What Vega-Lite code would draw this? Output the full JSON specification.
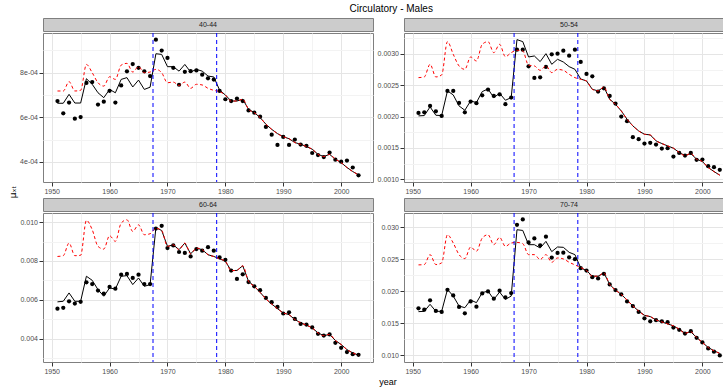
{
  "$schema": "https://vega.github.io/schema/vega-lite/v6.json",
  "padding": {"left": 8, "top": 3, "right": 0, "bottom": 0},
  "background": "white",
  "spacing": 0,
  "title": {"text": "Circulatory - Males", "fontSize": 10, "fontWeight": "normal", "font": "Liberation Sans", "color": "#000000", "anchor": "middle", "dx": 25, "offset": 4},
  "config": {
    "font": "Liberation Sans",
    "view": {"stroke": "#7f7f7f", "strokeWidth": 1},
    "axis": {"domain": false, "labelFontSize": 7, "labelColor": "#4d4d4d", "tickColor": "#333333", "tickSize": 4, "labelPadding": 1.5, "gridColor": "#e5e5e5", "gridWidth": 1, "labelFlush": false, "labelOverlap": false, "tickCount": 100}
  },
  "datasets": {
    "breaks": [{"year": 1967.5}, {"year": 1978.5}],
    "mx": [
      {"age":"40-44","year":1951,"rate":6.73e-4,"fit":6.63e-4,"fit0":7.18e-4},
      {"age":"40-44","year":1952,"rate":6.18e-4,"fit":6.63e-4,"fit0":7.18e-4},
      {"age":"40-44","year":1953,"rate":6.66e-4,"fit":7.03e-4,"fit0":7.60e-4},
      {"age":"40-44","year":1954,"rate":5.94e-4,"fit":6.64e-4,"fit0":7.18e-4},
      {"age":"40-44","year":1955,"rate":6.01e-4,"fit":6.64e-4,"fit0":7.21e-4},
      {"age":"40-44","year":1956,"rate":7.54e-4,"fit":7.73e-4,"fit0":8.37e-4},
      {"age":"40-44","year":1957,"rate":7.58e-4,"fit":7.48e-4,"fit0":8.00e-4},
      {"age":"40-44","year":1958,"rate":6.57e-4,"fit":7.10e-4,"fit0":7.55e-4},
      {"age":"40-44","year":1959,"rate":6.70e-4,"fit":6.88e-4,"fit0":7.40e-4},
      {"age":"40-44","year":1960,"rate":7.19e-4,"fit":7.25e-4,"fit0":7.82e-4},
      {"age":"40-44","year":1961,"rate":6.66e-4,"fit":7.10e-4,"fit0":7.70e-4},
      {"age":"40-44","year":1962,"rate":7.43e-4,"fit":7.70e-4,"fit0":8.34e-4},
      {"age":"40-44","year":1963,"rate":8.06e-4,"fit":7.78e-4,"fit0":8.42e-4},
      {"age":"40-44","year":1964,"rate":8.39e-4,"fit":7.36e-4,"fit0":8.03e-4},
      {"age":"40-44","year":1965,"rate":8.22e-4,"fit":7.67e-4,"fit0":8.27e-4},
      {"age":"40-44","year":1966,"rate":8.06e-4,"fit":7.25e-4,"fit0":8.00e-4},
      {"age":"40-44","year":1967,"rate":7.85e-4,"fit":7.35e-4,"fit0":8.03e-4},
      {"age":"40-44","year":1968,"rate":9.48e-4,"fit":8.85e-4,"fit0":8.15e-4},
      {"age":"40-44","year":1969,"rate":8.99e-4,"fit":8.82e-4,"fit0":8.00e-4},
      {"age":"40-44","year":1970,"rate":8.66e-4,"fit":8.27e-4,"fit0":7.55e-4},
      {"age":"40-44","year":1971,"rate":8.22e-4,"fit":8.27e-4,"fit0":7.58e-4},
      {"age":"40-44","year":1972,"rate":7.46e-4,"fit":8.07e-4,"fit0":7.43e-4},
      {"age":"40-44","year":1973,"rate":8.04e-4,"fit":8.37e-4,"fit0":7.58e-4},
      {"age":"40-44","year":1974,"rate":8.07e-4,"fit":8.03e-4,"fit0":7.30e-4},
      {"age":"40-44","year":1975,"rate":8.10e-4,"fit":8.15e-4,"fit0":7.48e-4},
      {"age":"40-44","year":1976,"rate":7.91e-4,"fit":8.07e-4,"fit0":7.45e-4},
      {"age":"40-44","year":1977,"rate":7.75e-4,"fit":7.85e-4,"fit0":7.30e-4},
      {"age":"40-44","year":1978,"rate":7.69e-4,"fit":7.81e-4,"fit0":7.21e-4},
      {"age":"40-44","year":1979,"rate":7.18e-4,"fit":7.22e-4,"fit0":7.15e-4},
      {"age":"40-44","year":1980,"rate":6.81e-4,"fit":7.00e-4,"fit0":7.00e-4},
      {"age":"40-44","year":1981,"rate":6.73e-4,"fit":6.73e-4,"fit0":6.73e-4},
      {"age":"40-44","year":1982,"rate":6.84e-4,"fit":6.73e-4,"fit0":6.73e-4},
      {"age":"40-44","year":1983,"rate":6.73e-4,"fit":6.81e-4,"fit0":6.81e-4},
      {"age":"40-44","year":1984,"rate":6.31e-4,"fit":6.36e-4,"fit0":6.36e-4},
      {"age":"40-44","year":1985,"rate":6.21e-4,"fit":6.21e-4,"fit0":6.21e-4},
      {"age":"40-44","year":1986,"rate":6.03e-4,"fit":5.99e-4,"fit0":5.99e-4},
      {"age":"40-44","year":1987,"rate":5.57e-4,"fit":5.69e-4,"fit0":5.69e-4},
      {"age":"40-44","year":1988,"rate":5.22e-4,"fit":5.46e-4,"fit0":5.46e-4},
      {"age":"40-44","year":1989,"rate":4.76e-4,"fit":5.27e-4,"fit0":5.27e-4},
      {"age":"40-44","year":1990,"rate":5.12e-4,"fit":5.13e-4,"fit0":5.13e-4},
      {"age":"40-44","year":1991,"rate":4.76e-4,"fit":5.04e-4,"fit0":5.04e-4},
      {"age":"40-44","year":1992,"rate":5.00e-4,"fit":4.87e-4,"fit0":4.87e-4},
      {"age":"40-44","year":1993,"rate":4.78e-4,"fit":4.79e-4,"fit0":4.79e-4},
      {"age":"40-44","year":1994,"rate":4.72e-4,"fit":4.69e-4,"fit0":4.69e-4},
      {"age":"40-44","year":1995,"rate":4.40e-4,"fit":4.57e-4,"fit0":4.57e-4},
      {"age":"40-44","year":1996,"rate":4.31e-4,"fit":4.34e-4,"fit0":4.34e-4},
      {"age":"40-44","year":1997,"rate":4.22e-4,"fit":4.24e-4,"fit0":4.24e-4},
      {"age":"40-44","year":1998,"rate":4.42e-4,"fit":4.34e-4,"fit0":4.34e-4},
      {"age":"40-44","year":1999,"rate":4.10e-4,"fit":4.12e-4,"fit0":4.12e-4},
      {"age":"40-44","year":2000,"rate":4.01e-4,"fit":3.97e-4,"fit0":3.97e-4},
      {"age":"40-44","year":2001,"rate":4.06e-4,"fit":3.75e-4,"fit0":3.75e-4},
      {"age":"40-44","year":2002,"rate":3.75e-4,"fit":3.57e-4,"fit0":3.57e-4},
      {"age":"40-44","year":2003,"rate":3.40e-4,"fit":3.42e-4,"fit0":3.42e-4},

      {"age":"50-54","year":1951,"rate":20.59e-4,"fit":20.11e-4,"fit0":26.22e-4},
      {"age":"50-54","year":1952,"rate":20.69e-4,"fit":20.16e-4,"fit0":26.33e-4},
      {"age":"50-54","year":1953,"rate":21.70e-4,"fit":21.54e-4,"fit0":28.35e-4},
      {"age":"50-54","year":1954,"rate":20.85e-4,"fit":20.21e-4,"fit0":26.33e-4},
      {"age":"50-54","year":1955,"rate":20.11e-4,"fit":20.16e-4,"fit0":26.65e-4},
      {"age":"50-54","year":1956,"rate":24.10e-4,"fit":24.10e-4,"fit0":31.97e-4},
      {"age":"50-54","year":1957,"rate":24.10e-4,"fit":23.46e-4,"fit0":29.95e-4},
      {"age":"50-54","year":1958,"rate":22.18e-4,"fit":21.70e-4,"fit0":28.09e-4},
      {"age":"50-54","year":1959,"rate":20.69e-4,"fit":21.01e-4,"fit0":27.55e-4},
      {"age":"50-54","year":1960,"rate":22.39e-4,"fit":22.50e-4,"fit0":29.52e-4},
      {"age":"50-54","year":1961,"rate":22.13e-4,"fit":22.23e-4,"fit0":28.88e-4},
      {"age":"50-54","year":1962,"rate":23.40e-4,"fit":23.99e-4,"fit0":31.54e-4},
      {"age":"50-54","year":1963,"rate":24.31e-4,"fit":24.41e-4,"fit0":31.97e-4},
      {"age":"50-54","year":1964,"rate":23.30e-4,"fit":23.03e-4,"fit0":30.21e-4},
      {"age":"50-54","year":1965,"rate":23.56e-4,"fit":23.72e-4,"fit0":31.54e-4},
      {"age":"50-54","year":1966,"rate":21.97e-4,"fit":22.61e-4,"fit0":29.57e-4},
      {"age":"50-54","year":1967,"rate":23.03e-4,"fit":23.03e-4,"fit0":30.21e-4},
      {"age":"50-54","year":1968,"rate":30.69e-4,"fit":32.29e-4,"fit0":30.59e-4},
      {"age":"50-54","year":1969,"rate":30.69e-4,"fit":31.97e-4,"fit0":30.48e-4},
      {"age":"50-54","year":1970,"rate":28.03e-4,"fit":29.52e-4,"fit0":28.19e-4},
      {"age":"50-54","year":1971,"rate":26.17e-4,"fit":29.68e-4,"fit0":28.09e-4},
      {"age":"50-54","year":1972,"rate":26.28e-4,"fit":28.78e-4,"fit0":27.39e-4},
      {"age":"50-54","year":1973,"rate":27.93e-4,"fit":30.05e-4,"fit0":28.09e-4},
      {"age":"50-54","year":1974,"rate":29.95e-4,"fit":28.35e-4,"fit0":27.02e-4},
      {"age":"50-54","year":1975,"rate":30.05e-4,"fit":29.15e-4,"fit0":27.55e-4},
      {"age":"50-54","year":1976,"rate":30.53e-4,"fit":28.72e-4,"fit0":27.39e-4},
      {"age":"50-54","year":1977,"rate":29.73e-4,"fit":27.98e-4,"fit0":26.76e-4},
      {"age":"50-54","year":1978,"rate":30.69e-4,"fit":27.55e-4,"fit0":26.22e-4},
      {"age":"50-54","year":1979,"rate":28.72e-4,"fit":26.00e-4,"fit0":25.95e-4},
      {"age":"50-54","year":1980,"rate":26.81e-4,"fit":25.69e-4,"fit0":25.69e-4},
      {"age":"50-54","year":1981,"rate":26.44e-4,"fit":24.36e-4,"fit0":24.36e-4},
      {"age":"50-54","year":1982,"rate":23.99e-4,"fit":24.10e-4,"fit0":24.10e-4},
      {"age":"50-54","year":1983,"rate":24.52e-4,"fit":24.73e-4,"fit0":24.73e-4},
      {"age":"50-54","year":1984,"rate":23.30e-4,"fit":22.77e-4,"fit0":22.77e-4},
      {"age":"50-54","year":1985,"rate":22.07e-4,"fit":21.97e-4,"fit0":21.97e-4},
      {"age":"50-54","year":1986,"rate":20.00e-4,"fit":20.90e-4,"fit0":20.90e-4},
      {"age":"50-54","year":1987,"rate":19.26e-4,"fit":19.57e-4,"fit0":19.57e-4},
      {"age":"50-54","year":1988,"rate":16.70e-4,"fit":18.51e-4,"fit0":18.51e-4},
      {"age":"50-54","year":1989,"rate":16.38e-4,"fit":17.71e-4,"fit0":17.71e-4},
      {"age":"50-54","year":1990,"rate":15.69e-4,"fit":17.18e-4,"fit0":17.18e-4},
      {"age":"50-54","year":1991,"rate":15.80e-4,"fit":17.07e-4,"fit0":17.07e-4},
      {"age":"50-54","year":1992,"rate":15.53e-4,"fit":16.12e-4,"fit0":16.12e-4},
      {"age":"50-54","year":1993,"rate":14.89e-4,"fit":15.69e-4,"fit0":15.69e-4},
      {"age":"50-54","year":1994,"rate":14.95e-4,"fit":15.32e-4,"fit0":15.32e-4},
      {"age":"50-54","year":1995,"rate":13.62e-4,"fit":14.95e-4,"fit0":14.95e-4},
      {"age":"50-54","year":1996,"rate":14.20e-4,"fit":14.26e-4,"fit0":14.26e-4},
      {"age":"50-54","year":1997,"rate":13.78e-4,"fit":13.78e-4,"fit0":13.78e-4},
      {"age":"50-54","year":1998,"rate":14.20e-4,"fit":14.10e-4,"fit0":14.10e-4},
      {"age":"50-54","year":1999,"rate":13.09e-4,"fit":13.19e-4,"fit0":13.19e-4},
      {"age":"50-54","year":2000,"rate":13.14e-4,"fit":12.82e-4,"fit0":12.82e-4},
      {"age":"50-54","year":2001,"rate":12.07e-4,"fit":11.86e-4,"fit0":11.86e-4},
      {"age":"50-54","year":2002,"rate":11.91e-4,"fit":11.22e-4,"fit0":11.22e-4},
      {"age":"50-54","year":2003,"rate":11.49e-4,"fit":10.64e-4,"fit0":10.64e-4},

      {"age":"60-64","year":1951,"rate":5.54e-3,"fit":5.89e-3,"fit0":8.23e-3},
      {"age":"60-64","year":1952,"rate":5.58e-3,"fit":5.92e-3,"fit0":8.27e-3},
      {"age":"60-64","year":1953,"rate":5.92e-3,"fit":6.35e-3,"fit0":8.92e-3},
      {"age":"60-64","year":1954,"rate":5.80e-3,"fit":5.92e-3,"fit0":8.27e-3},
      {"age":"60-64","year":1955,"rate":5.89e-3,"fit":5.92e-3,"fit0":8.29e-3},
      {"age":"60-64","year":1956,"rate":6.90e-3,"fit":7.21e-3,"fit0":10.09e-3},
      {"age":"60-64","year":1957,"rate":6.81e-3,"fit":7.00e-3,"fit0":9.61e-3},
      {"age":"60-64","year":1958,"rate":6.47e-3,"fit":6.52e-3,"fit0":8.75e-3},
      {"age":"60-64","year":1959,"rate":6.31e-3,"fit":6.18e-3,"fit0":8.61e-3},
      {"age":"60-64","year":1960,"rate":6.66e-3,"fit":6.61e-3,"fit0":9.30e-3},
      {"age":"60-64","year":1961,"rate":6.57e-3,"fit":6.55e-3,"fit0":9.01e-3},
      {"age":"60-64","year":1962,"rate":7.29e-3,"fit":7.21e-3,"fit0":9.95e-3},
      {"age":"60-64","year":1963,"rate":7.33e-3,"fit":7.24e-3,"fit0":10.12e-3},
      {"age":"60-64","year":1964,"rate":7.12e-3,"fit":6.78e-3,"fit0":9.52e-3},
      {"age":"60-64","year":1965,"rate":7.29e-3,"fit":7.12e-3,"fit0":9.86e-3},
      {"age":"60-64","year":1966,"rate":6.81e-3,"fit":6.69e-3,"fit0":9.35e-3},
      {"age":"60-64","year":1967,"rate":6.81e-3,"fit":6.78e-3,"fit0":9.40e-3},
      {"age":"60-64","year":1968,"rate":9.67e-3,"fit":9.71e-3,"fit0":9.68e-3},
      {"age":"60-64","year":1969,"rate":9.81e-3,"fit":9.57e-3,"fit0":9.57e-3},
      {"age":"60-64","year":1970,"rate":8.66e-3,"fit":8.75e-3,"fit0":8.75e-3},
      {"age":"60-64","year":1971,"rate":8.80e-3,"fit":8.83e-3,"fit0":8.83e-3},
      {"age":"60-64","year":1972,"rate":8.46e-3,"fit":8.58e-3,"fit0":8.58e-3},
      {"age":"60-64","year":1973,"rate":8.41e-3,"fit":8.92e-3,"fit0":8.92e-3},
      {"age":"60-64","year":1974,"rate":8.23e-3,"fit":8.37e-3,"fit0":8.37e-3},
      {"age":"60-64","year":1975,"rate":8.61e-3,"fit":8.66e-3,"fit0":8.66e-3},
      {"age":"60-64","year":1976,"rate":8.53e-3,"fit":8.58e-3,"fit0":8.58e-3},
      {"age":"60-64","year":1977,"rate":8.71e-3,"fit":8.32e-3,"fit0":8.32e-3},
      {"age":"60-64","year":1978,"rate":8.53e-3,"fit":8.23e-3,"fit0":8.23e-3},
      {"age":"60-64","year":1979,"rate":8.18e-3,"fit":8.11e-3,"fit0":8.11e-3},
      {"age":"60-64","year":1980,"rate":8.06e-3,"fit":7.98e-3,"fit0":7.98e-3},
      {"age":"60-64","year":1981,"rate":7.50e-3,"fit":7.50e-3,"fit0":7.50e-3},
      {"age":"60-64","year":1982,"rate":7.07e-3,"fit":7.51e-3,"fit0":7.51e-3},
      {"age":"60-64","year":1983,"rate":7.31e-3,"fit":7.75e-3,"fit0":7.75e-3},
      {"age":"60-64","year":1984,"rate":6.91e-3,"fit":6.95e-3,"fit0":6.95e-3},
      {"age":"60-64","year":1985,"rate":6.69e-3,"fit":6.69e-3,"fit0":6.69e-3},
      {"age":"60-64","year":1986,"rate":6.49e-3,"fit":6.38e-3,"fit0":6.38e-3},
      {"age":"60-64","year":1987,"rate":6.09e-3,"fit":6.04e-3,"fit0":6.04e-3},
      {"age":"60-64","year":1988,"rate":5.87e-3,"fit":5.78e-3,"fit0":5.78e-3},
      {"age":"60-64","year":1989,"rate":5.63e-3,"fit":5.54e-3,"fit0":5.54e-3},
      {"age":"60-64","year":1990,"rate":5.29e-3,"fit":5.32e-3,"fit0":5.32e-3},
      {"age":"60-64","year":1991,"rate":5.35e-3,"fit":5.23e-3,"fit0":5.23e-3},
      {"age":"60-64","year":1992,"rate":5.01e-3,"fit":4.98e-3,"fit0":4.98e-3},
      {"age":"60-64","year":1993,"rate":4.75e-3,"fit":4.81e-3,"fit0":4.81e-3},
      {"age":"60-64","year":1994,"rate":4.72e-3,"fit":4.69e-3,"fit0":4.69e-3},
      {"age":"60-64","year":1995,"rate":4.57e-3,"fit":4.55e-3,"fit0":4.55e-3},
      {"age":"60-64","year":1996,"rate":4.24e-3,"fit":4.29e-3,"fit0":4.29e-3},
      {"age":"60-64","year":1997,"rate":4.15e-3,"fit":4.15e-3,"fit0":4.15e-3},
      {"age":"60-64","year":1998,"rate":4.21e-3,"fit":4.21e-3,"fit0":4.21e-3},
      {"age":"60-64","year":1999,"rate":3.78e-3,"fit":3.90e-3,"fit0":3.90e-3},
      {"age":"60-64","year":2000,"rate":3.52e-3,"fit":3.69e-3,"fit0":3.69e-3},
      {"age":"60-64","year":2001,"rate":3.30e-3,"fit":3.43e-3,"fit0":3.43e-3},
      {"age":"60-64","year":2002,"rate":3.19e-3,"fit":3.26e-3,"fit0":3.26e-3},
      {"age":"60-64","year":2003,"rate":3.16e-3,"fit":3.14e-3,"fit0":3.14e-3},

      {"age":"70-74","year":1951,"rate":17.34e-3,"fit":16.82e-3,"fit0":24.11e-3},
      {"age":"70-74","year":1952,"rate":17.13e-3,"fit":16.87e-3,"fit0":24.16e-3},
      {"age":"70-74","year":1953,"rate":18.58e-3,"fit":17.96e-3,"fit0":25.71e-3},
      {"age":"70-74","year":1954,"rate":16.93e-3,"fit":16.87e-3,"fit0":24.16e-3},
      {"age":"70-74","year":1955,"rate":16.77e-3,"fit":16.87e-3,"fit0":24.42e-3},
      {"age":"70-74","year":1956,"rate":20.23e-3,"fit":20.28e-3,"fit0":28.81e-3},
      {"age":"70-74","year":1957,"rate":19.35e-3,"fit":19.25e-3,"fit0":27.52e-3},
      {"age":"70-74","year":1958,"rate":17.55e-3,"fit":17.70e-3,"fit0":25.71e-3},
      {"age":"70-74","year":1959,"rate":16.56e-3,"fit":17.44e-3,"fit0":25.09e-3},
      {"age":"70-74","year":1960,"rate":18.42e-3,"fit":18.63e-3,"fit0":26.90e-3},
      {"age":"70-74","year":1961,"rate":17.60e-3,"fit":18.22e-3,"fit0":26.23e-3},
      {"age":"70-74","year":1962,"rate":19.66e-3,"fit":19.77e-3,"fit0":28.29e-3},
      {"age":"70-74","year":1963,"rate":19.97e-3,"fit":20.03e-3,"fit0":28.81e-3},
      {"age":"70-74","year":1964,"rate":18.84e-3,"fit":18.73e-3,"fit0":27.26e-3},
      {"age":"70-74","year":1965,"rate":20.08e-3,"fit":19.87e-3,"fit0":28.40e-3},
      {"age":"70-74","year":1966,"rate":19.04e-3,"fit":18.73e-3,"fit0":27.00e-3},
      {"age":"70-74","year":1967,"rate":19.72e-3,"fit":19.25e-3,"fit0":27.52e-3},
      {"age":"70-74","year":1968,"rate":30.36e-3,"fit":29.59e-3,"fit0":27.62e-3},
      {"age":"70-74","year":1969,"rate":31.19e-3,"fit":29.48e-3,"fit0":27.42e-3},
      {"age":"70-74","year":1970,"rate":27.62e-3,"fit":27.26e-3,"fit0":25.71e-3},
      {"age":"70-74","year":1971,"rate":28.24e-3,"fit":27.26e-3,"fit0":25.71e-3},
      {"age":"70-74","year":1972,"rate":27.16e-3,"fit":26.74e-3,"fit0":24.94e-3},
      {"age":"70-74","year":1973,"rate":28.50e-3,"fit":27.78e-3,"fit0":25.71e-3},
      {"age":"70-74","year":1974,"rate":25.25e-3,"fit":26.18e-3,"fit0":24.52e-3},
      {"age":"70-74","year":1975,"rate":25.97e-3,"fit":26.90e-3,"fit0":25.19e-3},
      {"age":"70-74","year":1976,"rate":26.02e-3,"fit":26.85e-3,"fit0":25.04e-3},
      {"age":"70-74","year":1977,"rate":25.30e-3,"fit":26.07e-3,"fit0":24.52e-3},
      {"age":"70-74","year":1978,"rate":24.99e-3,"fit":25.71e-3,"fit0":24.11e-3},
      {"age":"70-74","year":1979,"rate":23.59e-3,"fit":23.64e-3,"fit0":23.70e-3},
      {"age":"70-74","year":1980,"rate":23.23e-3,"fit":23.23e-3,"fit0":23.23e-3},
      {"age":"70-74","year":1981,"rate":22.20e-3,"fit":22.35e-3,"fit0":22.35e-3},
      {"age":"70-74","year":1982,"rate":21.99e-3,"fit":22.35e-3,"fit0":22.35e-3},
      {"age":"70-74","year":1983,"rate":22.71e-3,"fit":22.87e-3,"fit0":22.87e-3},
      {"age":"70-74","year":1984,"rate":21.06e-3,"fit":21.06e-3,"fit0":21.06e-3},
      {"age":"70-74","year":1985,"rate":20.18e-3,"fit":20.18e-3,"fit0":20.18e-3},
      {"age":"70-74","year":1986,"rate":19.51e-3,"fit":19.51e-3,"fit0":19.51e-3},
      {"age":"70-74","year":1987,"rate":18.42e-3,"fit":18.63e-3,"fit0":18.63e-3},
      {"age":"70-74","year":1988,"rate":17.70e-3,"fit":17.70e-3,"fit0":17.70e-3},
      {"age":"70-74","year":1989,"rate":16.77e-3,"fit":16.92e-3,"fit0":16.92e-3},
      {"age":"70-74","year":1990,"rate":15.79e-3,"fit":16.25e-3,"fit0":16.25e-3},
      {"age":"70-74","year":1991,"rate":15.32e-3,"fit":16.05e-3,"fit0":16.05e-3},
      {"age":"70-74","year":1992,"rate":15.48e-3,"fit":15.53e-3,"fit0":15.53e-3},
      {"age":"70-74","year":1993,"rate":15.32e-3,"fit":15.22e-3,"fit0":15.22e-3},
      {"age":"70-74","year":1994,"rate":15.17e-3,"fit":14.91e-3,"fit0":14.91e-3},
      {"age":"70-74","year":1995,"rate":14.34e-3,"fit":14.60e-3,"fit0":14.60e-3},
      {"age":"70-74","year":1996,"rate":13.98e-3,"fit":14.08e-3,"fit0":14.08e-3},
      {"age":"70-74","year":1997,"rate":13.41e-3,"fit":13.46e-3,"fit0":13.46e-3},
      {"age":"70-74","year":1998,"rate":13.77e-3,"fit":13.67e-3,"fit0":13.67e-3},
      {"age":"70-74","year":1999,"rate":12.74e-3,"fit":12.79e-3,"fit0":12.79e-3},
      {"age":"70-74","year":2000,"rate":12.02e-3,"fit":12.02e-3,"fit0":12.02e-3},
      {"age":"70-74","year":2001,"rate":11.09e-3,"fit":11.24e-3,"fit0":11.24e-3},
      {"age":"70-74","year":2002,"rate":10.57e-3,"fit":10.72e-3,"fit0":10.72e-3},
      {"age":"70-74","year":2003,"rate":10.00e-3,"fit":10.31e-3,"fit0":10.31e-3}
    ]
  },
  "hconcat": [
    {
      "width": 10, "height": 348,
      "view": {"stroke": null},
      "data": {"values": [{"label": "μₓₜ"}]},
      "mark": {"type": "text", "angle": 270, "fontSize": 9, "font": "DejaVu Sans", "color": "#000000"},
      "encoding": {"text": {"field": "label"}}
    },
    {
      "spacing": 2,
      "vconcat": [
        {
          "spacing": 0,
          "hconcat": [
            {
              "spacing": 0,
              "vconcat": [
                {
                  "width": 330, "height": 13,
                  "view": {"fill": "#cccccc", "stroke": "#7f7f7f"},
                  "data": {"values": [{"age": "40-44"}]},
                  "mark": {"type": "text", "fontSize": 7, "color": "#1a1a1a"},
                  "encoding": {"text": {"field": "age"}}
                },
                {
                  "width": 330, "height": 149,
                  "data": {"name": "mx"},
                  "encoding": {
                    "x": {"field": "year", "type": "quantitative", "title": null,
                      "scale": {"domain": [1948.5, 2005.5], "nice": false, "zero": false},
                      "axis": {"values": [1950, 1955, 1960, 1965, 1970, 1975, 1980, 1985, 1990, 1995, 2000, 2005], "format": "d", "labelOverlap": false, "tickCount": 100,
                        "labelExpr": "datum.value % 10 != 0 ? '' : datum.label",
                        "gridColor": {"condition": {"test": "datum.value % 10 != 0", "value": "#f3f3f3"}, "value": "#e5e5e5"},
                        "tickOpacity": {"condition": {"test": "datum.value % 10 != 0", "value": 0}, "value": 1}}}
                  },
                  "layer": [
                    {
                      "transform": [{"filter": "datum.age == '40-44'"}],
                      "mark": {"type": "line", "color": "#000000", "strokeWidth": 1},
                      "encoding": {"y": {"field": "fit", "type": "quantitative", "title": null,
                        "scale": {"domain": [3.1e-4, 9.78e-4], "nice": false, "zero": false},
                        "axis": {"values": [4e-4, 5e-4, 6e-4, 7e-4, 8e-4, 9e-4], "minExtent": 24, "labelOverlap": false, "tickCount": 100,
                          "labelExpr": "round(datum.value*1e5) % 20 != 0 ? '' : replace(format(datum.value, '.0e'), 'e-', 'e-0')",
                          "gridColor": {"condition": {"test": "round(datum.value*1e5) % 20 != 0", "value": "#f3f3f3"}, "value": "#e5e5e5"},
                          "tickOpacity": {"condition": {"test": "round(datum.value*1e5) % 20 != 0", "value": 0}, "value": 1}}}}
                    },
                    {
                      "transform": [{"filter": "datum.age == '40-44'"}],
                      "mark": {"type": "circle", "color": "#000000", "size": 18, "opacity": 1},
                      "encoding": {"y": {"field": "rate", "type": "quantitative", "title": null}}
                    },
                    {
                      "transform": [{"filter": "datum.age == '40-44'"}],
                      "mark": {"type": "line", "color": "#ff0000", "strokeWidth": 1, "strokeDash": [3, 2.5], "interpolate": "monotone"},
                      "encoding": {"y": {"field": "fit0", "type": "quantitative", "title": null}}
                    },
                    {
                      "data": {"name": "breaks"},
                      "mark": {"type": "rule", "color": "#0000ff", "strokeWidth": 1, "strokeDash": [4, 3]},
                      "encoding": {}
                    }
                  ]
                }
              ]
            },
            {
              "spacing": 0,
              "vconcat": [
                {
                  "width": 320, "height": 13,
                  "view": {"fill": "#cccccc", "stroke": "#7f7f7f"},
                  "data": {"values": [{"age": "50-54"}]},
                  "mark": {"type": "text", "fontSize": 7, "color": "#1a1a1a", "dx": 5},
                  "encoding": {"text": {"field": "age"}}
                },
                {
                  "width": 320, "height": 149,
                  "data": {"name": "mx"},
                  "encoding": {
                    "x": {"field": "year", "type": "quantitative", "title": null,
                      "scale": {"domain": [1948.5, 2003.73], "nice": false, "zero": false},
                      "axis": {"values": [1950, 1955, 1960, 1965, 1970, 1975, 1980, 1985, 1990, 1995, 2000], "format": "d", "labelOverlap": false, "tickCount": 100,
                        "labelExpr": "datum.value % 10 != 0 ? '' : datum.label",
                        "gridColor": {"condition": {"test": "datum.value % 10 != 0", "value": "#f3f3f3"}, "value": "#e5e5e5"},
                        "tickOpacity": {"condition": {"test": "datum.value % 10 != 0", "value": 0}, "value": 1}}}
                  },
                  "layer": [
                    {
                      "transform": [{"filter": "datum.age == '50-54'"}],
                      "mark": {"type": "line", "color": "#000000", "strokeWidth": 1},
                      "encoding": {"y": {"field": "fit", "type": "quantitative", "title": null,
                        "scale": {"domain": [9.55e-4, 3.335e-3], "nice": false, "zero": false},
                        "axis": {"values": [0.001, 0.00125, 0.0015, 0.00175, 0.002, 0.00225, 0.0025, 0.00275, 0.003, 0.00325], "minExtent": 29, "labelOverlap": false, "tickCount": 100,
                          "labelExpr": "round(datum.value*1e5) % 50 != 0 ? '' : format(datum.value, '.4f')",
                          "gridColor": {"condition": {"test": "round(datum.value*1e5) % 50 != 0", "value": "#f3f3f3"}, "value": "#e5e5e5"},
                          "tickOpacity": {"condition": {"test": "round(datum.value*1e5) % 50 != 0", "value": 0}, "value": 1}}}}
                    },
                    {
                      "transform": [{"filter": "datum.age == '50-54'"}],
                      "mark": {"type": "circle", "color": "#000000", "size": 18, "opacity": 1},
                      "encoding": {"y": {"field": "rate", "type": "quantitative", "title": null}}
                    },
                    {
                      "transform": [{"filter": "datum.age == '50-54'"}],
                      "mark": {"type": "line", "color": "#ff0000", "strokeWidth": 1, "strokeDash": [3, 2.5], "interpolate": "monotone"},
                      "encoding": {"y": {"field": "fit0", "type": "quantitative", "title": null}}
                    },
                    {
                      "data": {"name": "breaks"},
                      "mark": {"type": "rule", "color": "#0000ff", "strokeWidth": 1, "strokeDash": [4, 3]},
                      "encoding": {}
                    }
                  ]
                }
              ]
            }
          ]
        },
        {
          "spacing": 0,
          "hconcat": [
            {
              "spacing": 0,
              "vconcat": [
                {
                  "width": 330, "height": 13,
                  "view": {"fill": "#cccccc", "stroke": "#7f7f7f"},
                  "data": {"values": [{"age": "60-64"}]},
                  "mark": {"type": "text", "fontSize": 7, "color": "#1a1a1a"},
                  "encoding": {"text": {"field": "age"}}
                },
                {
                  "width": 330, "height": 149,
                  "data": {"name": "mx"},
                  "encoding": {
                    "x": {"field": "year", "type": "quantitative", "title": null,
                      "scale": {"domain": [1948.5, 2005.5], "nice": false, "zero": false},
                      "axis": {"values": [1950, 1955, 1960, 1965, 1970, 1975, 1980, 1985, 1990, 1995, 2000, 2005], "format": "d", "labelOverlap": false, "tickCount": 100,
                        "labelExpr": "datum.value % 10 != 0 ? '' : datum.label",
                        "gridColor": {"condition": {"test": "datum.value % 10 != 0", "value": "#f3f3f3"}, "value": "#e5e5e5"},
                        "tickOpacity": {"condition": {"test": "datum.value % 10 != 0", "value": 0}, "value": 1}}}
                  },
                  "layer": [
                    {
                      "transform": [{"filter": "datum.age == '60-64'"}],
                      "mark": {"type": "line", "color": "#000000", "strokeWidth": 1},
                      "encoding": {"y": {"field": "fit", "type": "quantitative", "title": null,
                        "scale": {"domain": [2.79e-3, 1.047e-2], "nice": false, "zero": false},
                        "axis": {"values": [0.003, 0.004, 0.005, 0.006, 0.007, 0.008, 0.009, 0.01], "minExtent": 24, "labelOverlap": false, "tickCount": 100,
                          "labelExpr": "round(datum.value*1e4) % 20 != 0 ? '' : format(datum.value, '.3f')",
                          "gridColor": {"condition": {"test": "round(datum.value*1e4) % 20 != 0", "value": "#f3f3f3"}, "value": "#e5e5e5"},
                          "tickOpacity": {"condition": {"test": "round(datum.value*1e4) % 20 != 0", "value": 0}, "value": 1}}}}
                    },
                    {
                      "transform": [{"filter": "datum.age == '60-64'"}],
                      "mark": {"type": "circle", "color": "#000000", "size": 18, "opacity": 1},
                      "encoding": {"y": {"field": "rate", "type": "quantitative", "title": null}}
                    },
                    {
                      "transform": [{"filter": "datum.age == '60-64'"}],
                      "mark": {"type": "line", "color": "#ff0000", "strokeWidth": 1, "strokeDash": [3, 2.5], "interpolate": "monotone"},
                      "encoding": {"y": {"field": "fit0", "type": "quantitative", "title": null}}
                    },
                    {
                      "data": {"name": "breaks"},
                      "mark": {"type": "rule", "color": "#0000ff", "strokeWidth": 1, "strokeDash": [4, 3]},
                      "encoding": {}
                    }
                  ]
                }
              ]
            },
            {
              "spacing": 0,
              "vconcat": [
                {
                  "width": 320, "height": 13,
                  "view": {"fill": "#cccccc", "stroke": "#7f7f7f"},
                  "data": {"values": [{"age": "70-74"}]},
                  "mark": {"type": "text", "fontSize": 7, "color": "#1a1a1a", "dx": 5},
                  "encoding": {"text": {"field": "age"}}
                },
                {
                  "width": 320, "height": 149,
                  "data": {"name": "mx"},
                  "encoding": {
                    "x": {"field": "year", "type": "quantitative", "title": null,
                      "scale": {"domain": [1948.5, 2003.73], "nice": false, "zero": false},
                      "axis": {"values": [1950, 1955, 1960, 1965, 1970, 1975, 1980, 1985, 1990, 1995, 2000], "format": "d", "labelOverlap": false, "tickCount": 100,
                        "labelExpr": "datum.value % 10 != 0 ? '' : datum.label",
                        "gridColor": {"condition": {"test": "datum.value % 10 != 0", "value": "#f3f3f3"}, "value": "#e5e5e5"},
                        "tickOpacity": {"condition": {"test": "datum.value % 10 != 0", "value": 0}, "value": 1}}}
                  },
                  "layer": [
                    {
                      "transform": [{"filter": "datum.age == '70-74'"}],
                      "mark": {"type": "line", "color": "#000000", "strokeWidth": 1},
                      "encoding": {"y": {"field": "fit", "type": "quantitative", "title": null,
                        "scale": {"domain": [8.97e-3, 3.22e-2], "nice": false, "zero": false},
                        "axis": {"values": [0.01, 0.0125, 0.015, 0.0175, 0.02, 0.0225, 0.025, 0.0275, 0.03], "minExtent": 29, "labelOverlap": false, "tickCount": 100,
                          "labelExpr": "round(datum.value*1e4) % 50 != 0 ? '' : format(datum.value, '.3f')",
                          "gridColor": {"condition": {"test": "round(datum.value*1e4) % 50 != 0", "value": "#f3f3f3"}, "value": "#e5e5e5"},
                          "tickOpacity": {"condition": {"test": "round(datum.value*1e4) % 50 != 0", "value": 0}, "value": 1}}}}
                    },
                    {
                      "transform": [{"filter": "datum.age == '70-74'"}],
                      "mark": {"type": "circle", "color": "#000000", "size": 18, "opacity": 1},
                      "encoding": {"y": {"field": "rate", "type": "quantitative", "title": null}}
                    },
                    {
                      "transform": [{"filter": "datum.age == '70-74'"}],
                      "mark": {"type": "line", "color": "#ff0000", "strokeWidth": 1, "strokeDash": [3, 2.5], "interpolate": "monotone"},
                      "encoding": {"y": {"field": "fit0", "type": "quantitative", "title": null}}
                    },
                    {
                      "data": {"name": "breaks"},
                      "mark": {"type": "rule", "color": "#0000ff", "strokeWidth": 1, "strokeDash": [4, 3]},
                      "encoding": {}
                    }
                  ]
                }
              ]
            }
          ]
        },
        {
          "width": 660, "height": 10,
          "view": {"stroke": null},
          "data": {"values": [{"label": "year"}]},
          "mark": {"type": "text", "fontSize": 9, "color": "#000000", "dx": 15},
          "encoding": {"text": {"field": "label"}}
        }
      ]
    }
  ]
}
